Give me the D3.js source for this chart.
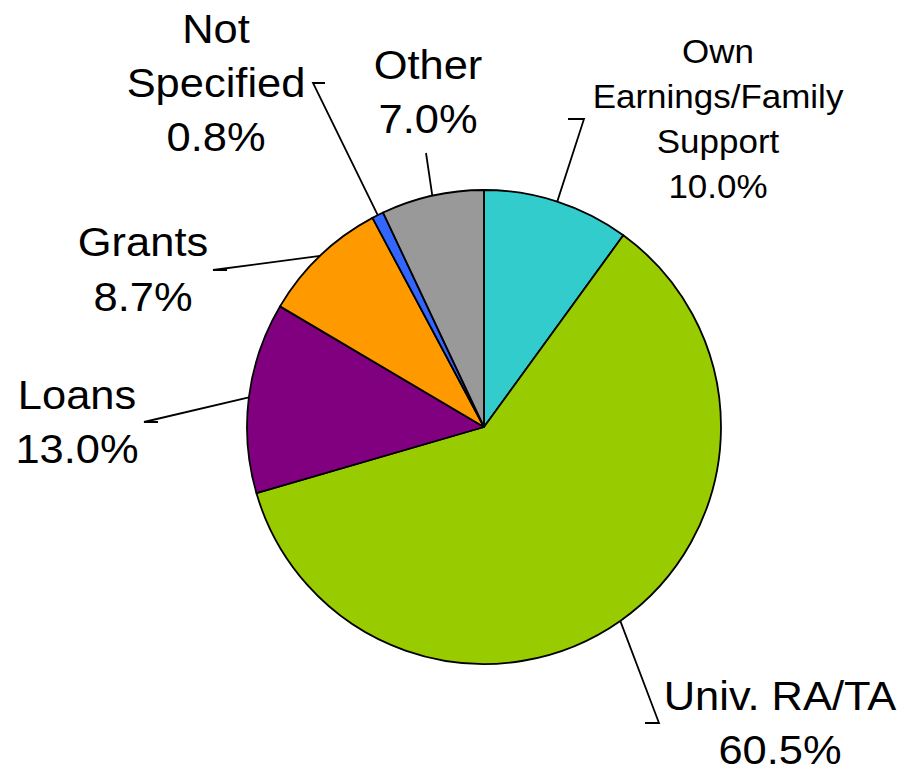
<!DOCTYPE html>
<html>
<head>
<meta charset="utf-8">
<script src="https://cdn.jsdelivr.net/npm/d3@7"></script>
<style>
  body { margin: 0; background: #fff; }
  text { font-family: "Liberation Sans", Arial, sans-serif; fill: #000; }
</style>
</head>
<body>
<div id="pie"></div>
<script>
// slice data, clockwise from 12 o'clock
const categories = ["Own Earnings/Family Support", "Univ. RA/TA", "Loans", "Grants", "Not Specified", "Other"];
const shares = [10.0, 60.5, 13.0, 8.7, 0.8, 7.0];
const labelLines = [["Own", "Earnings/Family", "Support"], ["Univ. RA/TA"], ["Loans"], ["Grants"], ["Not", "Specified"], ["Other"]];
const colors = ["#33CCCC", "#99CC00", "#800080", "#FF9900", "#3366FF", "#999999"];

// label layout: text center x, first baseline y, font size, line step, leader elbow points
const layout = [
  {x: 718, y: 63, size: 33, step: 45, elbow: [[584, 119], [568, 119]]},
  {x: 780, y: 710, size: 41, step: 54, elbow: [[659, 723], [645, 723]]},
  {x: 77, y: 409, size: 41, step: 54, elbow: [[144, 422], [158, 422]]},
  {x: 143, y: 256, size: 41, step: 55, elbow: [[213, 270], [227, 270]]},
  {x: 216, y: 43, size: 41, step: 54, elbow: [[313, 83], [325, 83]]},
  {x: 428, y: 79, size: 41, step: 54, elbow: [[426, 153]]}
];

const width = 920, height = 768;
const cx = 484, cy = 427, radius = 237;
const stretch = 1.06; // the reference text is a little wider than plain Arial

const data = categories.map((c, i) => ({name: c, value: shares[i], lines: labelLines[i], color: colors[i], lay: layout[i]}));

const svg = d3.select("#pie").append("svg")
    .attr("width", width)
    .attr("height", height);

const g = svg.append("g")
    .attr("transform", "translate(" + cx + "," + cy + ")");

const pie = d3.pie().sort(null).value(d => d.value);
const arc = d3.arc().innerRadius(0).outerRadius(radius);
const arcs = pie(data);

//slices
g.selectAll("path.slice")
    .data(arcs)
    .enter().append("path")
        .attr("class", "slice")
        .attr("d", arc)
        .attr("fill", d => d.data.color)
        .attr("stroke", "#000")
        .attr("stroke-width", 1.8)
        .attr("stroke-linejoin", "round");

//leader lines, from the arc edge at mid angle to the label elbow
svg.selectAll("polyline.leader")
    .data(arcs)
    .enter().append("polyline")
        .attr("class", "leader")
        .attr("fill", "none")
        .attr("stroke", "#000")
        .attr("stroke-width", 1.8)
        .attr("points", function(d){
            let a = (d.startAngle + d.endAngle) / 2;
            let edge = [cx + radius * Math.sin(a), cy - radius * Math.cos(a)];
            let pts = d.data.lay.elbow.slice().reverse();
            pts.push(edge);
            return pts.map(p => p.join(",")).join(" ");
        });

//labels
let labels = svg.selectAll("text.label")
    .data(data)
    .enter().append("text")
        .attr("class", "label")
        .attr("text-anchor", "middle")
        .attr("font-size", d => d.lay.size)
        .attr("transform", d => "translate(" + d.lay.x + ",0) scale(" + stretch + ",1)");

labels.each(function(d){
    let t = d3.select(this);
    let rows = d.lines.concat([d3.format(".1f")(d.value) + "%"]);
    rows.forEach(function(r, i){
        t.append("tspan")
            .attr("x", 0)
            .attr("y", d.lay.y + i * d.lay.step)
            .text(r);
    });
});
</script>
</body>
</html>
